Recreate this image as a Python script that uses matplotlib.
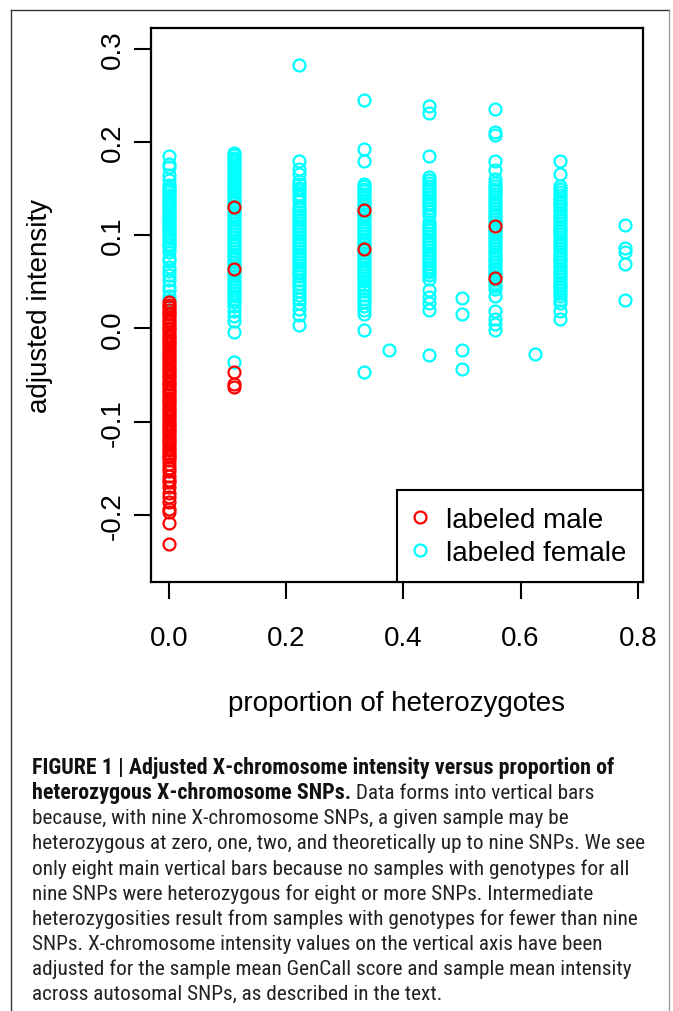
import matplotlib
matplotlib.use("Agg")
import matplotlib.pyplot as plt
from matplotlib.lines import Line2D
from matplotlib import font_manager

# proportion of heterozygous X-chromosome SNPs for each column of points
het_000 = 0.0
het_111 = 0.1111
het_222 = 0.2222
het_333 = 0.3333
het_375 = 0.375
het_444 = 0.4444
het_500 = 0.5
het_556 = 0.5556
het_625 = 0.625
het_667 = 0.6667
het_778 = 0.7778

# adjusted intensity, labeled female
female_000 = [0.185, 0.176, 0.173, 0.164, 0.159, 0.154, 0.151, 0.148, 0.146, 0.143, 0.140, 0.138,
              0.135, 0.132, 0.130, 0.127, 0.124, 0.121, 0.119, 0.116, 0.113, 0.110, 0.108, 0.105,
              0.102, 0.099, 0.097, 0.094, 0.091, 0.089, 0.086, 0.082, 0.076, 0.072, 0.066, 0.062,
              0.057, 0.052, 0.046, 0.041, 0.035, 0.031]
female_111 = [0.188, 0.186, 0.183, 0.181, 0.178, 0.175, 0.173, 0.170, 0.167, 0.165, 0.162, 0.159,
              0.157, 0.154, 0.151, 0.149, 0.146, 0.143, 0.140, 0.137, 0.134, 0.131, 0.128, 0.125,
              0.122, 0.119, 0.116, 0.113, 0.110, 0.107, 0.104, 0.101, 0.098, 0.095, 0.092, 0.089,
              0.086, 0.083, 0.080, 0.077, 0.074, 0.071, 0.068, 0.065, 0.062, 0.059, 0.056, 0.053,
              0.050, 0.047, 0.044, 0.041, 0.038, 0.035, 0.032, 0.028, 0.024, 0.019, 0.013, 0.008,
              -0.004, -0.036]
female_222 = [0.282, 0.180, 0.171, 0.166, 0.158, 0.155, 0.151, 0.148, 0.144, 0.141, 0.137, 0.131,
              0.128, 0.125, 0.122, 0.119, 0.116, 0.113, 0.110, 0.107, 0.104, 0.101, 0.098, 0.095,
              0.092, 0.089, 0.086, 0.083, 0.080, 0.077, 0.074, 0.071, 0.068, 0.065, 0.062, 0.059,
              0.056, 0.052, 0.048, 0.044, 0.040, 0.036, 0.032, 0.027, 0.021, 0.014, 0.004]
female_333 = [0.245, 0.192, 0.179, 0.155, 0.153, 0.150, 0.147, 0.144, 0.141, 0.138, 0.135, 0.132,
              0.129, 0.126, 0.123, 0.120, 0.117, 0.114, 0.111, 0.108, 0.105, 0.102, 0.099, 0.096,
              0.093, 0.090, 0.087, 0.084, 0.081, 0.078, 0.075, 0.072, 0.069, 0.066, 0.063, 0.060,
              0.057, 0.054, 0.051, 0.047, 0.043, 0.040, 0.036, 0.032, 0.028, 0.024, 0.020, 0.016,
              -0.002, -0.047]
female_375 = [-0.023]
female_444 = [0.238, 0.231, 0.185, 0.162, 0.159, 0.156, 0.153, 0.150, 0.147, 0.144, 0.141, 0.138,
              0.135, 0.132, 0.129, 0.126, 0.122, 0.114, 0.111, 0.108, 0.105, 0.102, 0.099, 0.096,
              0.093, 0.090, 0.087, 0.084, 0.081, 0.078, 0.075, 0.072, 0.069, 0.066, 0.063, 0.060,
              0.057, 0.053, 0.041, 0.034, 0.027, 0.020, -0.028]
female_500 = [0.033, 0.015, -0.023, -0.043]
female_556 = [0.235, 0.211, 0.207, 0.179, 0.170, 0.160, 0.156, 0.153, 0.150, 0.147, 0.144, 0.141,
              0.138, 0.135, 0.132, 0.129, 0.126, 0.123, 0.120, 0.117, 0.114, 0.111, 0.107, 0.104,
              0.101, 0.098, 0.095, 0.092, 0.089, 0.086, 0.083, 0.080, 0.077, 0.074, 0.071, 0.068,
              0.065, 0.062, 0.059, 0.056, 0.052, 0.049, 0.045, 0.042, 0.035, 0.019, 0.010, 0.005,
              -0.002]
female_625 = [-0.027]
female_667 = [0.180, 0.166, 0.153, 0.150, 0.146, 0.143, 0.140, 0.137, 0.134, 0.131, 0.128, 0.125,
              0.122, 0.119, 0.116, 0.113, 0.110, 0.107, 0.104, 0.101, 0.098, 0.095, 0.092, 0.089,
              0.086, 0.083, 0.080, 0.077, 0.074, 0.071, 0.068, 0.065, 0.062, 0.059, 0.056, 0.053,
              0.050, 0.047, 0.044, 0.041, 0.038, 0.035, 0.031, 0.027, 0.019, 0.010]
female_778 = [0.111, 0.086, 0.082, 0.069, 0.031]

# adjusted intensity, labeled male
male_000 = [0.028, 0.025, 0.023, 0.020, 0.017, 0.015, 0.012, 0.009, 0.007, 0.004, 0.001, -0.001,
            -0.004, -0.007, -0.009, -0.012, -0.015, -0.017, -0.020, -0.023, -0.025, -0.028, -0.031,
            -0.034, -0.036, -0.039, -0.042, -0.044, -0.047, -0.050, -0.052, -0.055, -0.058, -0.060,
            -0.063, -0.066, -0.068, -0.071, -0.074, -0.077, -0.079, -0.082, -0.085, -0.087, -0.090,
            -0.093, -0.095, -0.098, -0.101, -0.103, -0.106, -0.109, -0.111, -0.114, -0.117, -0.120,
            -0.122, -0.125, -0.128, -0.130, -0.133, -0.136, -0.138, -0.141, -0.145, -0.149, -0.153,
            -0.158, -0.162, -0.165, -0.170, -0.176, -0.181, -0.186, -0.193, -0.197, -0.208, -0.231]
male_111 = [0.130, 0.064, -0.047, -0.059, -0.063]
male_333 = [0.127, 0.085]
male_556 = [0.110, 0.054]

x_ticks = [0.0, 0.2, 0.4, 0.6, 0.8]
x_tick_labels = ["0.0", "0.2", "0.4", "0.6", "0.8"]
y_ticks = [-0.2, -0.1, 0.0, 0.1, 0.2, 0.3]
y_tick_labels = ["-0.2", "-0.1", "0.0", "0.1", "0.2", "0.3"]

caption_bold_1 = "FIGURE 1 | Adjusted X-chromosome intensity versus proportion of"
caption_bold_2 = "heterozygous X-chromosome SNPs."
caption_rest_2 = " Data forms into vertical bars"
caption_lines = [
    "because, with nine X-chromosome SNPs, a given sample may be",
    "heterozygous at zero, one, two, and theoretically up to nine SNPs. We see",
    "only eight main vertical bars because no samples with genotypes for all",
    "nine SNPs were heterozygous for eight or more SNPs. Intermediate",
    "heterozygosities result from samples with genotypes for fewer than nine",
    "SNPs. X-chromosome intensity values on the vertical axis have been",
    "adjusted for the sample mean GenCall score and sample mean intensity",
    "across autosomal SNPs, as described in the text.",
]

female_cols = [(het_000, female_000), (het_111, female_111), (het_222, female_222),
               (het_333, female_333), (het_375, female_375), (het_444, female_444),
               (het_500, female_500), (het_556, female_556), (het_625, female_625),
               (het_667, female_667), (het_778, female_778)]
male_cols = [(het_000, male_000), (het_111, male_111), (het_333, male_333), (het_556, male_556)]

W, H = 673, 1012
plt.rcParams['font.family'] = ['Liberation Sans', 'DejaVu Sans']
fig = plt.figure(figsize=(W / 100, H / 100), dpi=100)

ax = fig.add_axes([150.7 / W, 1 - 583.3 / H, (643 - 150.7) / W, (583.3 - 29) / H])

mk = dict(marker='o', markersize=8.6, markerfacecolor='none', markeredgewidth=1.6, linestyle='none')
for xv, ys in female_cols:
    ax.plot([xv] * len(ys), ys, markeredgecolor='#00FFFF', **mk)
for xv, ys in male_cols:
    ax.plot([xv] * len(ys), ys, markeredgecolor='#FF0000', **mk)

ax.set_xlim(-0.0311, 0.8089)
ax.set_ylim(-0.272, 0.322)
ax.set_xticks(x_ticks)
ax.set_xticklabels(x_tick_labels)
ax.set_yticks(y_ticks)
ax.set_yticklabels(y_tick_labels, rotation=90, va='center')
ax.tick_params(length=12, width=1.5, labelsize=20, direction='out')
ax.tick_params(axis='x', pad=19)
ax.tick_params(axis='y', pad=6)
for sp in ax.spines.values():
    sp.set_linewidth(1.6)

handles = [Line2D([], [], markeredgecolor='#FF0000', **mk),
           Line2D([], [], markeredgecolor='#00FFFF', **mk)]
leg = ax.legend(handles, ['labeled male', 'labeled female'], loc='lower right',
                borderaxespad=0, fontsize=20, frameon=True, fancybox=False,
                edgecolor='black', framealpha=1, borderpad=0.6, labelspacing=0.25,
                handlelength=0.4, handletextpad=0.75)
leg.get_frame().set_linewidth(1.5)

fig.text(40 / W, 1 - 306 / H, 'adjusted intensity', rotation=90, ha='center', va='center',
         fontsize=20)
fig.text(397 / W, 1 - 704 / H, 'proportion of heterozygotes', ha='center', va='center',
         fontsize=20)

# outer frame of the figure panel
fig.add_artist(Line2D([10.5 / W, 10.5 / W], [0, 1 - 10.5 / H], color='#333333', lw=1.0))
fig.add_artist(Line2D([10.5 / W, 668.5 / W], [1 - 10.5 / H, 1 - 10.5 / H], color='#333333', lw=1.0))
fig.add_artist(Line2D([668.5 / W, 668.5 / W], [0, 1 - 10.5 / H], color='#999999', lw=1.0))

# caption: condensed face if there is one, size chosen so the lines fit like the original
names = {f.name for f in font_manager.fontManager.ttflist}
cap_font = ['Liberation Sans']
for cand in ['Roboto Condensed', 'Liberation Sans Narrow', 'Arial Narrow', 'Roboto']:
    if cand in names:
        cap_font = [cand, 'DejaVu Sans']
        break

x0 = 32 / W
line_h = 25.2
y_first = 768

probe = fig.text(x0, 0.5, caption_lines[1], fontsize=15, family=cap_font)
probe_b = fig.text(x0, 0.5, caption_bold_1, fontsize=15, family=cap_font, fontweight='bold')
fig.canvas.draw()
cap_size = 15 * 613 / probe.get_window_extent().width
bold_size = 15 * 583 / probe_b.get_window_extent().width
probe.remove()
probe_b.remove()

fig.text(x0, 1 - y_first / H, caption_bold_1, fontsize=bold_size, fontweight='bold',
         family=cap_font, va='center', color='#111111')
t2 = fig.text(x0, 1 - (y_first + line_h) / H, caption_bold_2, fontsize=bold_size,
              fontweight='bold', family=cap_font, va='center', color='#111111')
fig.canvas.draw()
bb = t2.get_window_extent()
fig.text(bb.x1 / W, 1 - (y_first + line_h) / H, caption_rest_2, fontsize=cap_size,
         family=cap_font, va='center', color='#222222')
for i, line in enumerate(caption_lines):
    fig.text(x0, 1 - (y_first + line_h * (i + 2)) / H, line, fontsize=cap_size,
             family=cap_font, va='center', color='#222222')

fig.savefig('out.png', dpi=100)
